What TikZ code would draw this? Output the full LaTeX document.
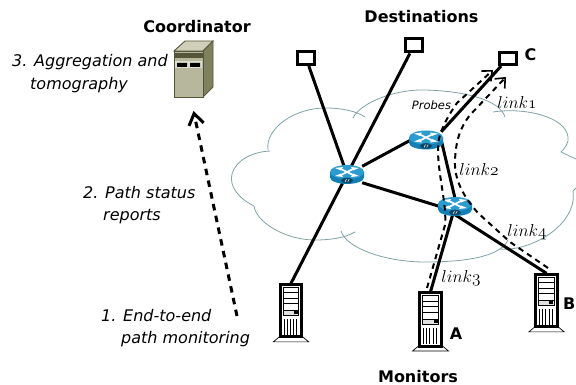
\documentclass[tikz,border=0pt]{standalone}
\usepackage{fontspec}
\setmainfont{DejaVu Sans}
\usetikzlibrary{arrows.meta}
\definecolor{cloudc}{HTML}{7FA3A8}
\definecolor{rtop}{HTML}{2C9CD0}
\definecolor{rside}{HTML}{1280B5}
\definecolor{cfront}{HTML}{B7B79D}
\definecolor{ctop}{HTML}{D0D0BA}
\definecolor{cside}{HTML}{80805F}
\definecolor{cline}{HTML}{55553A}
\tikzset{
  x=1pt,y=-1pt,
  cloudline/.style={draw=cloudc,line width=0.8pt,line cap=round},
  link/.style={line width=3pt,black},
  probe/.style={line width=2pt,dash pattern=on 5.5pt off 4.5pt,-{Straight Barb[length=8pt,width=14pt,line width=1.6pt]}},
  report/.style={line width=3pt,dash pattern=on 6.5pt off 5.5pt,-{Straight Barb[length=11pt,width=15pt,line width=3pt]}},
  dest/.style={draw=black,fill=white,line width=3pt,inner sep=0pt,minimum width=#1},
  hosthit/.style={inner sep=0pt,minimum width=24pt,minimum height=54pt},
  routerhit/.style={inner sep=0pt,minimum width=30pt,minimum height=16pt},
  title/.style={font=\bfseries\fontsize{16}{19}\selectfont,inner sep=0pt},
  tag/.style={font=\bfseries\fontsize{16}{19}\selectfont,inner sep=0pt},
  step text/.style={font=\itshape\fontsize{16}{19}\selectfont,inner sep=0pt,anchor=base west},
  mathlabel/.style={font=\LARGE,inner sep=0pt},
  router/.pic={
    \fill[rside] (-17,-2.5) -- (-17,3) .. controls (-17,7) and (-8,9.5) .. (0,9.5) .. controls (8,9.5) and (17,7) .. (17,3) -- (17,-2.5) -- cycle;
    \fill[rtop] (0,-2.5) ellipse[x radius=17,y radius=7];
    \draw[white,line width=1.6pt] (-7,-6) -- (7,1) (-7,1) -- (7,-6);
    \fill[white] (-12,-6.5) -- (-4,-7.5) -- (-6,-4) -- cycle (12,-6.5) -- (4,-7.5) -- (6,-4) -- cycle
                 (-12,1.5) -- (-4,2.5) -- (-6,-1) -- cycle (12,1.5) -- (4,2.5) -- (6,-1) -- cycle;
    \fill[rside!55!black] (0,6) ellipse[x radius=6,y radius=2.8];
    \draw[white,line width=0.5pt] (-2,7.5) -- (-0.5,4.5) (0.7,7.5) -- (2.2,4.5);
  },
  server/.pic={
    \draw[line width=0.7pt,fill=white] (-12,27) -- (-18,32) -- (18,32) -- (12,27) -- cycle;
    \draw[line width=3pt,fill=white] (-11,-27) rectangle (11,27);
    \draw[line width=0.9pt] (-8,-24) rectangle (8,5);
    \draw[line width=0.9pt] (-8,-18) -- (8,-18) (-8,-12.5) -- (8,-12.5) (-8,-7) -- (8,-7);
    \draw[line width=0.9pt,fill=black!12] (-8,0) rectangle (8,5);
    \fill[black] (3,1) rectangle (7,4);
    \foreach \gx in {-7,-3.8,-0.6,2.6,5.8} \draw[line width=1pt] (\gx,9) -- (\gx,25);
  },
  coord/.pic={
    \draw[cline,line width=0.9pt,fill=ctop] (0,0) -- (11,-10) -- (39,-10) -- (29,0) -- cycle;
    \draw[cline,line width=0.9pt,fill=cside] (29,0) -- (39,-10) -- (39,36) -- (29,46) -- cycle;
    \draw[cline,line width=0.9pt,fill=cfront] (0,0) rectangle (29,46);
    \fill[cline] (0.5,2) rectangle (28.5,7);
    \fill[ctop!70!white] (1,10) rectangle (28,17);
    \fill[black] (3,12) rectangle (13,16) (16,12) rectangle (26,16);
  },
}
\begin{document}
\begin{tikzpicture}
\useasboundingbox (0,0) rectangle (576,385);

% cloud
\draw[cloudline] (254,206) .. controls (238,198) and (229,186) .. (232,174) .. controls (236,160) and (252,152) .. (270,151);
\draw[cloudline] (268,150) .. controls (265,128) and (295,108) .. (325,108) .. controls (342,108) and (356,111) .. (365,117);
\draw[cloudline] (353,118) .. controls (360,103) and (395,89) .. (425,90) .. controls (465,91) and (500,100) .. (505,117);
\draw[cloudline] (493,112) .. controls (525,107) and (566,117) .. (568,137) .. controls (569,143) and (565,148) .. (561,152) -- (576,159);
\draw[cloudline] (254,206) .. controls (256,222) and (285,240) .. (315,240) .. controls (330,240) and (345,238) .. (355,232);
\draw[cloudline] (341,231) .. controls (346,248) and (385,262) .. (425,262) .. controls (460,262) and (500,258) .. (508,240);
\draw[cloudline] (500,249) .. controls (530,252) and (578,225) .. (573,191) -- (576,188);

% nodes
\node[dest=17pt,minimum height=13pt] (d1) at (306,58) {};
\node[dest=17pt,minimum height=13pt] (d2) at (414,45.5) {};
\node[dest=17pt,minimum height=12pt] (dc) at (508,58.5) {};
\node[routerhit] (r1) at (347,174.5) {};
\node[routerhit] (r2) at (426,140) {};
\node[routerhit] (r3) at (455,206.5) {};
\node[hosthit] (m1) at (291,310.5) {};
\node[hosthit] (ma) at (430.5,319) {};
\node[hosthit] (mb) at (546.5,300.5) {};
\coordinate (coordfoot) at (193.5,111);
\coordinate (reportstart) at (237,316);

% links
\draw[link] (m1.north) -- (r1.center);
\draw[link] (d1) -- (r1.center);
\draw[link] (d2) -- (r1.center);
\draw[link] (r1.north east) -- (r2.west);
\draw[link] (r1.south east) -- (r3.west);
\draw[link] (r2.north east) -- (dc);
\draw[link] (r2.east) -- (r3.north);
\draw[link] (r3.center) -- (ma.north);
\draw[link] (r3.south) -- (mb.north);

% routers and hosts
\pic at (r1) {router};
\pic at (r2) {router};
\pic at (r3) {router};
\pic[scale=0.98] at (m1) {server};
\pic at (ma) {server};
\pic[scale=0.98] at (mb) {server};
\pic at (174,51) {coord};

% probes
\coordinate (pa) at (427,288);
\coordinate (pb) at (493,70);
\coordinate (pc) at (548,268);
\coordinate (pd) at (506,77);
\draw[probe] (pa) -- (445,225) .. controls (447,205) and (438,175) .. (438,150) .. controls (437,137) and (445,120) .. (457,103) -- (pb);
\draw[probe] (pc) -- (510,242) -- (478,213) .. controls (462,195) and (454,178) .. (455,160) .. controls (456,140) and (460,128) .. (470,115) -- (pd);
\draw[report] (reportstart) -- (coordfoot);

% text
\node[title] at (197,27) {Coordinator};
\node[title] at (421.5,17) {Destinations};
\node[title] at (418,376.5) {Monitors};
\node[tag] at (530.5,55) {C};
\node[tag] at (456,334) {A};
\node[tag,anchor=east] at (575.5,304) {B};
\node[step text] at (12,67) {3. Aggregation and};
\node[step text] at (30,90) {tomography};
\node[step text] at (83,198) {2. Path status};
\node[step text] at (103,220) {reports};
\node[step text] at (101,321) {1. End-to-end};
\node[step text] at (121,343) {path monitoring};
\node[font=\itshape\fontsize{11.5}{13}\selectfont,inner sep=0pt] at (431.5,105) {Probes};
\node[mathlabel] at (517,103) {$link\mathnormal{1}$};
\node[mathlabel] at (479,170) {$link\mathnormal{2}$};
\node[mathlabel] at (461,278) {$link\mathnormal{3}$};
\node[mathlabel] at (527,232) {$link\mathnormal{4}$};
\end{tikzpicture}
\end{document}
